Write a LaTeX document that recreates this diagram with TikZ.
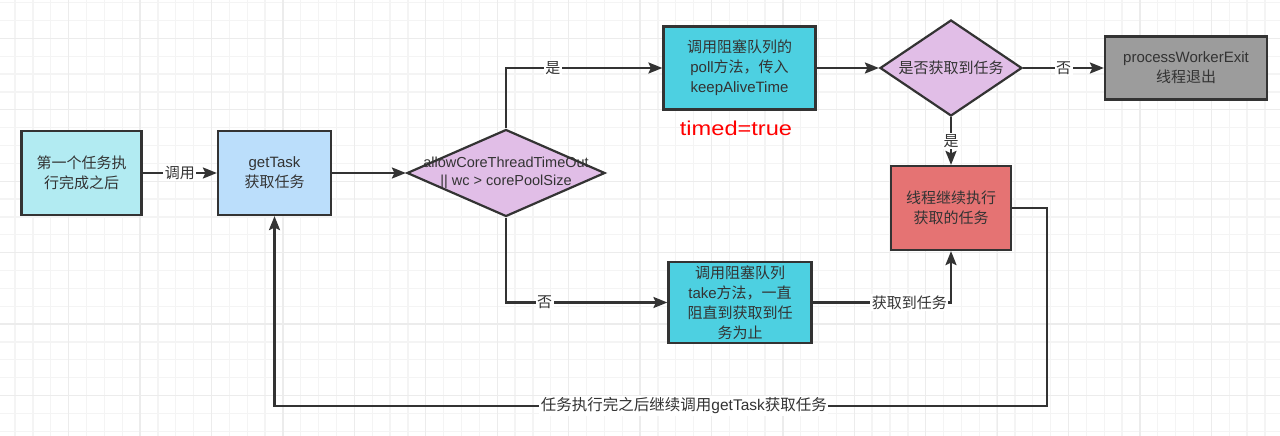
\documentclass[tikz,border=0pt]{standalone}
\usepackage{fontspec}
\setmainfont{Noto Sans CJK SC}
\newfontfamily\lat{Liberation Sans}
\usetikzlibrary{shapes.geometric,arrows.meta}
\definecolor{edgec}{HTML}{333333}
\definecolor{txt}{HTML}{333333}
\definecolor{cyanlight}{HTML}{B2EBF2}
\definecolor{bluelight}{HTML}{BBDEFB}
\definecolor{lilac}{HTML}{E1BEE7}
\definecolor{cyanmid}{HTML}{4DD0E1}
\definecolor{greybox}{HTML}{9C9C9C}
\definecolor{redbox}{HTML}{E57373}
\definecolor{gridminor}{HTML}{F4F4F4}
\definecolor{gridmajor}{HTML}{ECECEC}
\begin{document}
\begin{tikzpicture}[x=1pt,y=-1pt,
  box/.style={draw=edgec, line width=2.2pt, rectangle, inner sep=0pt, align=center, text=txt, font=\fontsize{15}{20}\selectfont},
  dia/.style={draw=edgec, line width=2.2pt, diamond, inner sep=0pt, fill=lilac},
  diatext/.style={align=center, text=txt, inner sep=0pt},
  conn/.style={draw=edgec, line width=2.2pt, line join=miter, -{Stealth[length=14pt,width=11pt,inset=2.5pt]}},
  lbl/.style={fill=white, inner sep=1.5pt, text=txt, font=\fontsize{15}{17}\selectfont},
  gminor/.style={draw=gridminor, line width=1.3pt},
  gmajor/.style={draw=gridmajor, line width=1.3pt},
]
\useasboundingbox[fill=white] (0,0) rectangle (1280,436);
% grid
\foreach \k in {0,...,71} {
  \pgfmathsetmacro\xx{15.1+17.855*\k}
  \draw[gminor] (\xx,0) -- (\xx,436);
}
\foreach \k in {0,...,24} {
  \pgfmathsetmacro\yy{2.7+17.855*\k}
  \draw[gminor] (0,\yy) -- (1280,\yy);
}
\foreach \k in {0,...,17} {
  \pgfmathsetmacro\xx{68.7+71.42*\k}
  \draw[gmajor] (\xx,0) -- (\xx,436);
}
\foreach \k in {0,...,6} {
  \pgfmathsetmacro\yy{38.4+71.42*\k}
  \draw[gmajor] (0,\yy) -- (1280,\yy);
}

% nodes
\node[box, fill=cyanlight, minimum width=120pt, minimum height=84pt] (b1) at (81.5,173) {第一个任务执\\行完成之后};
\node[box, fill=bluelight, minimum width=113pt, minimum height=84pt] (b2) at (274.5,173) {{\lat getTask}\\获取任务};
\node[dia, minimum width=198pt, minimum height=87pt] (d1) at (506,173) {};
\node[diatext, font=\lat\fontsize{14.5}{18}\selectfont] (d1t) at (d1) {allowCoreThreadTimeOut\\|| wc > corePoolSize};
\node[box, fill=cyanmid, minimum width=152pt, minimum height=83pt] (poll) at (739.5,68) {调用阻塞队列的\\{\lat poll}方法，传入\\{\lat keepAliveTime}};
\node[text=red, inner sep=0pt, font=\lat\fontsize{20}{24}\selectfont] (timed) at (736,128) {\scalebox{1.18}[1]{timed=true}};
\node[dia, minimum width=142pt, minimum height=96pt] (d2) at (951,68) {};
\node[diatext, font=\fontsize{15}{18}\selectfont] (d2t) at (d2) {是否获取到任务};
\node[box, fill=greybox, minimum width=162pt, minimum height=63pt] (exit) at (1186,68) {{\lat processWorkerExit}\\线程退出};
\node[box, fill=redbox, minimum width=120pt, minimum height=84pt] (run) at (951,208) {线程继续执行\\获取的任务};
\node[box, fill=cyanmid, minimum width=143pt, minimum height=81pt] (take) at (740,302.5) {调用阻塞队列\\{\lat take}方法，一直\\阻直到获取到任\\务为止};

% connectors
\draw[conn] (b1) -- node[lbl] {调用} (b2);
\draw[conn] (b2) -- (d1);
\draw[conn] (d1.north) |- node[lbl, pos=0.65] {是} (poll.west);
\draw[conn] (d1.south) |- node[lbl, pos=0.62] {否} (take.west);
\draw[conn] (poll) -- (d2);
\draw[conn] (d2) -- node[lbl] {否} (exit);
\draw[conn] (d2) -- node[lbl] {是} (run);
\draw[conn] (take) -| node[lbl, pos=0.35] {获取到任务} (run.south);
\coordinate (c1) at (1047,406);
\coordinate (c2) at (b2.south |- c1);
\draw[conn] (run.east) -| (c1) -- node[lbl, pos=0.47, font=\fontsize{15.5}{17}\selectfont] {任务执行完之后继续调用{\lat getTask}获取任务} (c2) -- (b2.south);
\end{tikzpicture}
\end{document}
